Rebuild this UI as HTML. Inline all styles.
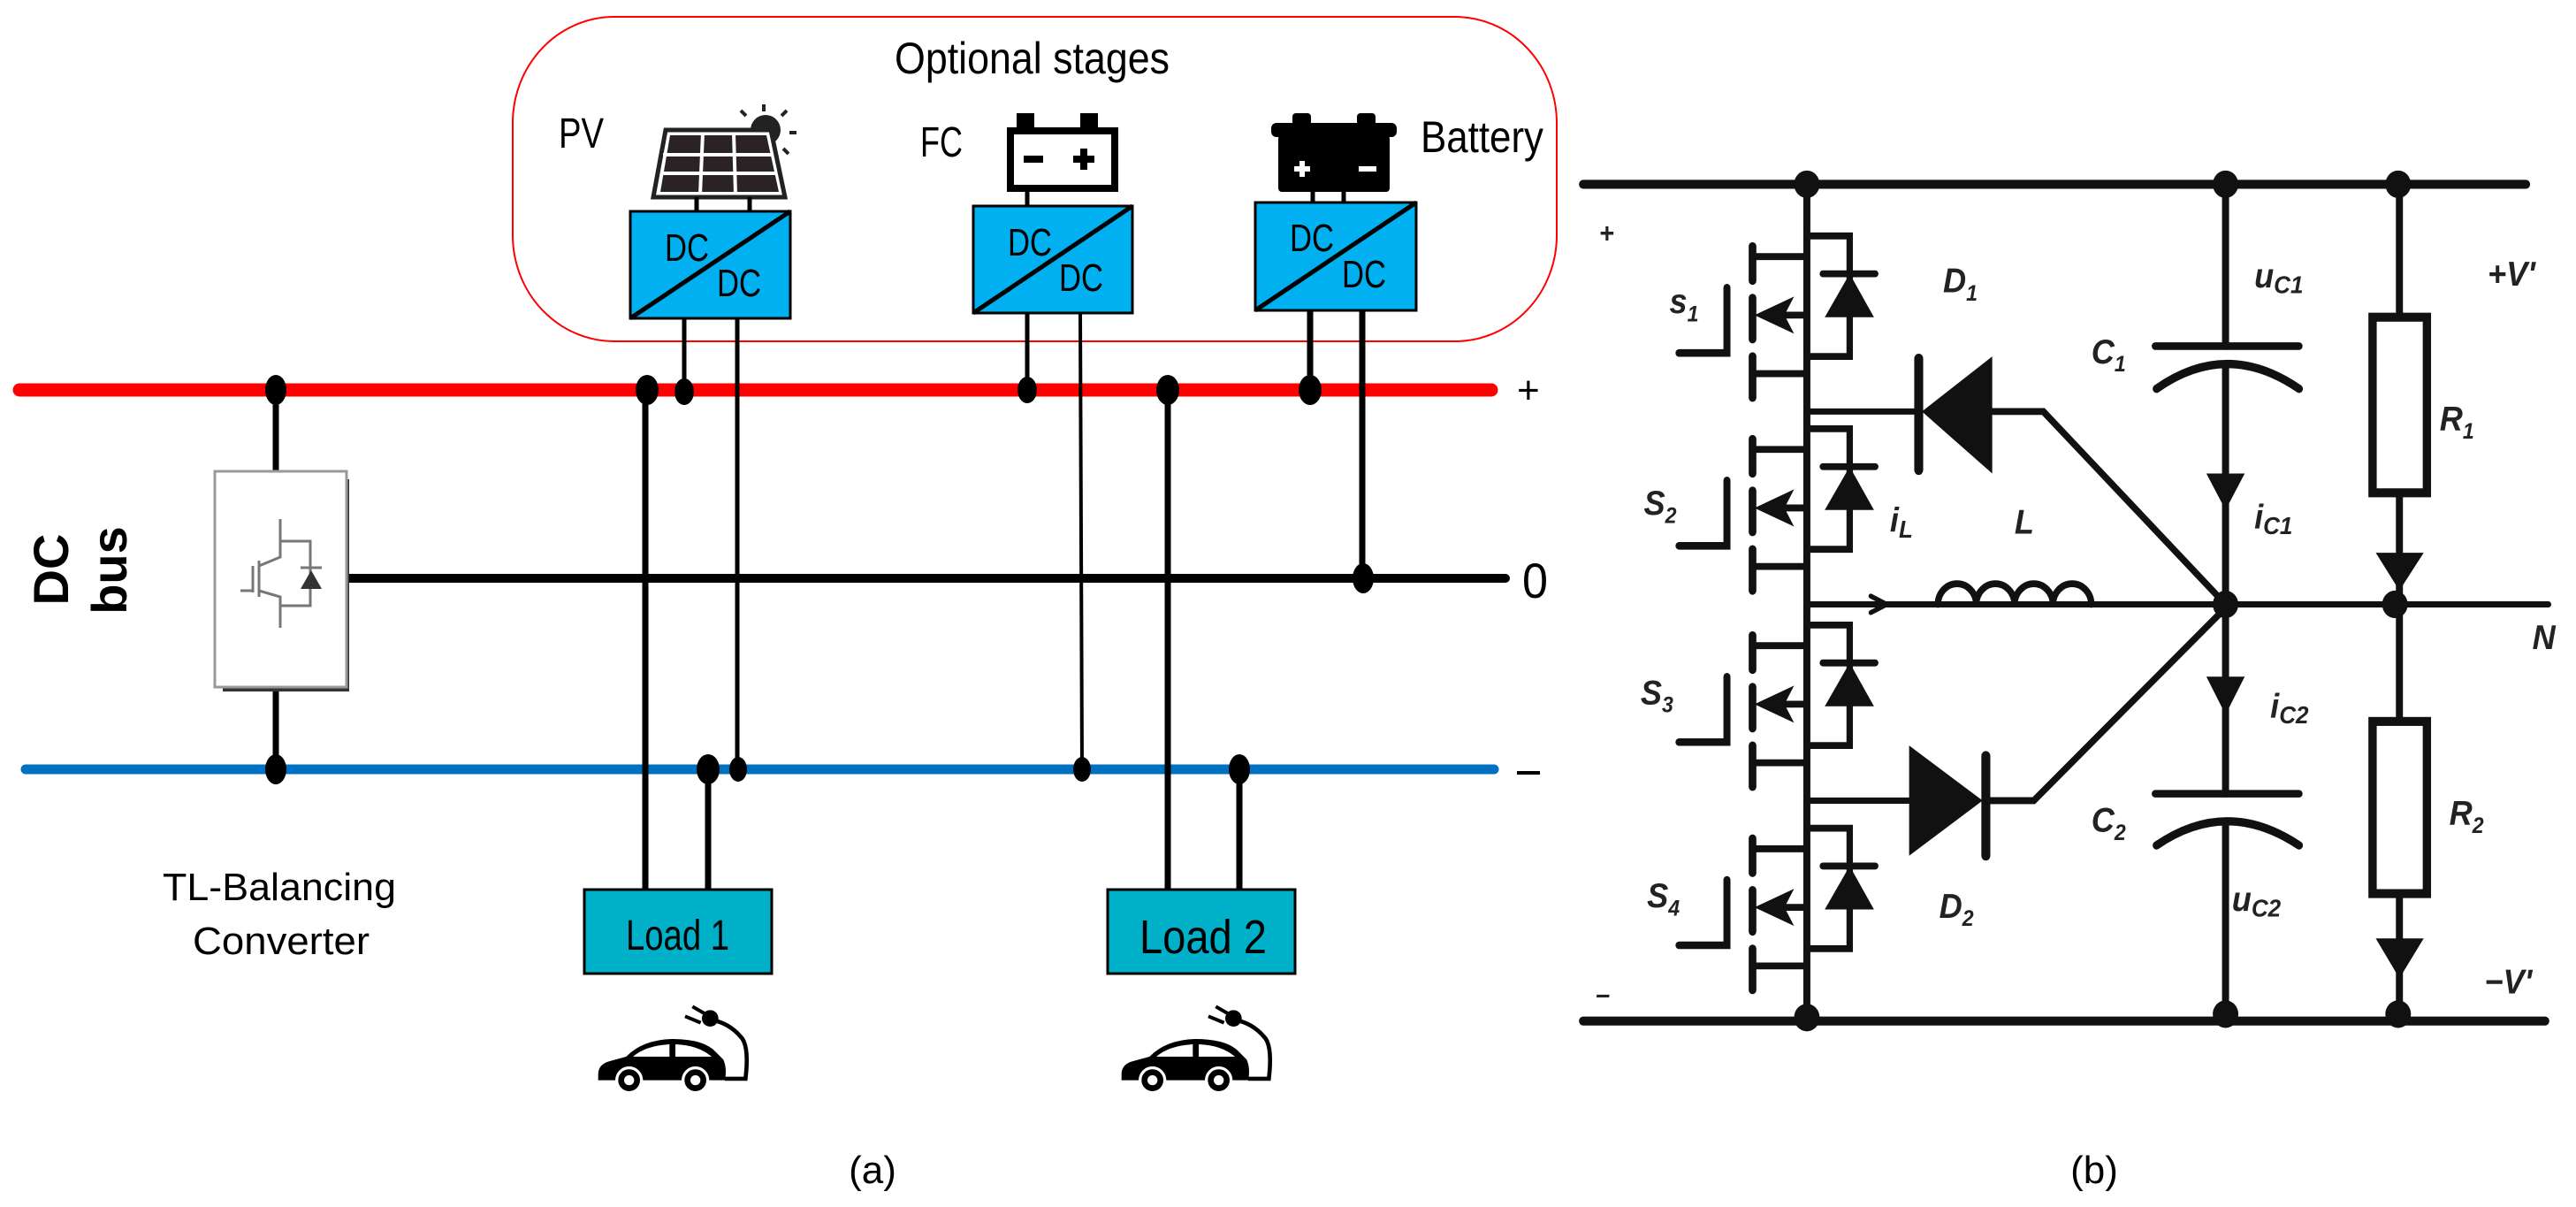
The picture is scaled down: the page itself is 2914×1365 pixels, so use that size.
<!DOCTYPE html>
<html><head><meta charset="utf-8"><style>
html,body{margin:0;padding:0;background:#fff;}
svg{display:block;}
text{font-family:"Liberation Sans",sans-serif;}
</style></head><body>
<svg width="2914" height="1365" viewBox="0 0 2914 1365" xmlns="http://www.w3.org/2000/svg">
<!-- ===== Panel (a) ===== -->
<rect x="580" y="19" width="1181" height="367" rx="115" ry="120" fill="none" stroke="#ff0000" stroke-width="2"/>
<text x="1012" y="83" font-size="50" textLength="311" lengthAdjust="spacingAndGlyphs">Optional stages</text>
<text x="632" y="167" font-size="48" textLength="51" lengthAdjust="spacingAndGlyphs">PV</text>
<text x="1041" y="177" font-size="48" textLength="48" lengthAdjust="spacingAndGlyphs">FC</text>
<text x="1607" y="172" font-size="50" textLength="139" lengthAdjust="spacingAndGlyphs">Battery</text>

<!-- PV icon -->
<g>
<circle cx="866" cy="147" r="17" fill="#222"/>
<g stroke="#222" stroke-width="4">
<line x1="864" y1="118" x2="864" y2="126"/><line x1="838" y1="125" x2="844" y2="131"/><line x1="890" y1="125" x2="884" y2="131"/><line x1="893" y1="150" x2="901" y2="150"/><line x1="886" y1="168" x2="892" y2="174"/>
</g>
<path d="M739,223 L753,147 L872,147 L888,223 Z" fill="#fff" stroke="#222" stroke-width="5"/>
<path d="M747,217 L758,153 L867,153 L881,217 Z" fill="#2a2224"/>
<g stroke="#fff" stroke-width="4"><line x1="750" y1="175" x2="875" y2="175"/><line x1="747" y1="196" x2="878" y2="196"/><line x1="795" y1="150" x2="792" y2="220"/><line x1="830" y1="150" x2="832" y2="220"/></g>
</g>
<g stroke="#000" stroke-width="5"><line x1="788" y1="223" x2="788" y2="240"/><line x1="848" y1="223" x2="848" y2="240"/></g>

<!-- FC icon -->
<rect x="1150" y="128" width="20" height="22" fill="#000"/><rect x="1222" y="128" width="20" height="22" fill="#000"/>
<rect x="1143" y="148" width="118" height="65" fill="#fff" stroke="#000" stroke-width="8"/>
<rect x="1158" y="176" width="22" height="8" fill="#000"/>
<rect x="1214" y="176" width="24" height="8" fill="#000"/><rect x="1222" y="168" width="8" height="24" fill="#000"/>
<line x1="1162" y1="213" x2="1162" y2="234" stroke="#000" stroke-width="5"/>

<!-- Battery icon -->
<rect x="1462" y="128" width="21" height="14" rx="4" fill="#000"/><rect x="1535" y="128" width="21" height="14" rx="4" fill="#000"/>
<rect x="1438" y="139" width="142" height="16" rx="6" fill="#000"/>
<rect x="1446" y="153" width="126" height="64" rx="4" fill="#000"/>
<rect x="1464" y="188" width="18" height="6" fill="#fff"/><rect x="1470" y="182" width="6" height="18" fill="#fff"/>
<rect x="1537" y="188" width="20" height="6" fill="#fff"/>
<g stroke="#000" stroke-width="5"><line x1="1485" y1="217" x2="1485" y2="230"/><line x1="1520" y1="217" x2="1520" y2="230"/></g>

<!-- DC/DC boxes -->
<g stroke="#000" stroke-width="3">
<rect x="713" y="239" width="181" height="121" fill="#00b0f0"/>
<line x1="713" y1="360" x2="894" y2="239" stroke-width="5"/>
<rect x="1101" y="233" width="180" height="121" fill="#00b0f0"/>
<line x1="1101" y1="354" x2="1281" y2="233" stroke-width="5"/>
<rect x="1420" y="229" width="182" height="122" fill="#00b0f0"/>
<line x1="1420" y1="351" x2="1602" y2="229" stroke-width="5"/>
</g>
<g font-size="44">
<text x="752" y="295" textLength="50" lengthAdjust="spacingAndGlyphs">DC</text>
<text x="811" y="335" textLength="50" lengthAdjust="spacingAndGlyphs">DC</text>
<text x="1140" y="289" textLength="50" lengthAdjust="spacingAndGlyphs">DC</text>
<text x="1198" y="329" textLength="50" lengthAdjust="spacingAndGlyphs">DC</text>
<text x="1459" y="284" textLength="50" lengthAdjust="spacingAndGlyphs">DC</text>
<text x="1518" y="325" textLength="50" lengthAdjust="spacingAndGlyphs">DC</text>
</g>

<!-- buses -->
<line x1="22" y1="441" x2="1687" y2="441" stroke="#ff0000" stroke-width="15" stroke-linecap="round"/>
<line x1="393" y1="654" x2="1703" y2="654" stroke="#000" stroke-width="10" stroke-linecap="round"/>
<line x1="29" y1="870" x2="1690" y2="870" stroke="#0070c0" stroke-width="11" stroke-linecap="round"/>
<text x="1716" y="456" font-size="44">+</text>
<text x="1722" y="676" font-size="56" textLength="29" lengthAdjust="spacingAndGlyphs">0</text>
<rect x="1716" y="872" width="26" height="4" fill="#000"/>

<!-- wires -->
<g stroke="#000" fill="none">
<line x1="312" y1="441" x2="312" y2="533" stroke-width="7"/>
<line x1="312" y1="780" x2="312" y2="870" stroke-width="7"/>
<line x1="774" y1="360" x2="774" y2="441" stroke-width="5"/>
<line x1="834" y1="360" x2="834" y2="870" stroke-width="5"/>
<line x1="1162" y1="354" x2="1162" y2="441" stroke-width="5"/>
<line x1="1222" y1="354" x2="1224" y2="870" stroke-width="4"/>
<line x1="1482" y1="351" x2="1482" y2="441" stroke-width="7"/>
<line x1="1541" y1="351" x2="1541" y2="654" stroke-width="7"/>
<line x1="730" y1="441" x2="730" y2="1008" stroke-width="7"/>
<line x1="801" y1="870" x2="801" y2="1008" stroke-width="7"/>
<line x1="1321" y1="441" x2="1321" y2="1008" stroke-width="7"/>
<line x1="1402" y1="870" x2="1402" y2="1008" stroke-width="7"/>
</g>
<g fill="#000">
<ellipse cx="312" cy="441" rx="12" ry="17"/><ellipse cx="732" cy="441" rx="13" ry="17"/><ellipse cx="774" cy="443" rx="11" ry="15"/>
<ellipse cx="1162" cy="441" rx="11" ry="15"/><ellipse cx="1321" cy="441" rx="13" ry="17"/><ellipse cx="1482" cy="441" rx="13" ry="17"/>
<ellipse cx="1542" cy="654" rx="12" ry="17"/>
<ellipse cx="312" cy="870" rx="12" ry="17"/><ellipse cx="801" cy="870" rx="13" ry="17"/><ellipse cx="835" cy="870" rx="10" ry="14"/>
<ellipse cx="1224" cy="870" rx="10" ry="14"/><ellipse cx="1402" cy="870" rx="12" ry="17"/>
</g>

<!-- converter -->
<rect x="252" y="542" width="143" height="240" fill="#333"/>
<rect x="243" y="533" width="149" height="244" fill="#fff" stroke="#999" stroke-width="3"/>
<g stroke="#777" stroke-width="3" fill="none">
<path d="M317,587 V612 H351 V685 H317 V710"/>
<path d="M317,612 V630 L293,640"/><path d="M293,668 L317,675 V685"/>
<line x1="293" y1="634" x2="293" y2="675"/><line x1="286" y1="640" x2="286" y2="670"/><line x1="272" y1="668" x2="286" y2="668"/>
<line x1="340" y1="642" x2="364" y2="642"/>
</g>
<path d="M340,666 L364,666 L352,645 Z" fill="#333"/>
<text transform="translate(77,644) rotate(-90)" font-size="56" font-weight="bold" text-anchor="middle">DC</text>
<text transform="translate(143,645) rotate(-90)" font-size="56" font-weight="bold" text-anchor="middle">bus</text>
<text x="316" y="1018" font-size="44" text-anchor="middle" textLength="264" lengthAdjust="spacingAndGlyphs">TL-Balancing</text>
<text x="318" y="1079" font-size="44" text-anchor="middle" textLength="200" lengthAdjust="spacingAndGlyphs">Converter</text>

<!-- loads -->
<rect x="661" y="1006" width="212" height="95" fill="#00b0c8" stroke="#000" stroke-width="3"/>
<text x="708" y="1074" font-size="48" textLength="117" lengthAdjust="spacingAndGlyphs">Load 1</text>
<rect x="1253" y="1006" width="212" height="95" fill="#00b0c8" stroke="#000" stroke-width="3"/>
<text x="1289" y="1078" font-size="54" textLength="144" lengthAdjust="spacingAndGlyphs">Load 2</text>

<!-- cars -->
<g id="car" transform="translate(640,1000) scale(0.3333)">
<path d="M110,645 Q110,610 150,600 L205,585 Q260,528 360,525 Q470,525 510,570 L535,595 Q548,625 540,665 L110,665 Z" fill="#000"/>
<path d="M228,585 Q270,548 352,543 L352,585 Z" fill="#fff"/>
<path d="M372,543 Q450,546 495,585 L372,585 Z" fill="#fff"/>
<circle cx="215" cy="665" r="42" fill="#000" stroke="#fff" stroke-width="10"/><circle cx="215" cy="665" r="17" fill="#fff"/>
<circle cx="440" cy="665" r="42" fill="#000" stroke="#fff" stroke-width="10"/><circle cx="440" cy="665" r="17" fill="#fff"/>
<path d="M540,660 H610 Q622,560 600,525 Q565,480 515,465" fill="none" stroke="#000" stroke-width="14"/>
<circle cx="490" cy="455" r="28" fill="#000"/>
<g stroke="#000" stroke-width="12"><line x1="470" y1="438" x2="430" y2="415"/><line x1="458" y1="470" x2="405" y2="448"/></g>
</g>
<use href="#car" transform="translate(592,0)"/>

<text x="987" y="1338" font-size="44" text-anchor="middle">(a)</text>

<!-- ===== Panel (b) ===== -->
<g transform="translate(1780,150) scale(0.7231,0.7788)" stroke="#111" fill="none" stroke-linecap="round">
<line x1="15" y1="75" x2="1490" y2="75" stroke-width="13"/>
<line x1="15" y1="1290" x2="1520" y2="1290" stroke-width="13"/>
<line x1="365" y1="685" x2="1525" y2="685" stroke-width="9"/>
<line x1="365" y1="75" x2="365" y2="1290" stroke-width="11"/>
<g id="mos">
<path d="M365,150 H432 V325 H365" stroke-width="10"/>
<line x1="280" y1="180" x2="365" y2="180" stroke-width="10"/>
<line x1="280" y1="165" x2="280" y2="215" stroke-width="12"/>
<line x1="280" y1="240" x2="280" y2="300" stroke-width="12"/>
<line x1="280" y1="325" x2="280" y2="385" stroke-width="12"/>
<line x1="300" y1="265" x2="365" y2="265" stroke-width="10"/>
<path d="M283,265 L345,238 L330,265 L345,292 Z" fill="#111" stroke="none"/>
<line x1="280" y1="350" x2="365" y2="350" stroke-width="10"/>
<path d="M240,225 V320 H165" stroke-width="11"/>
<line x1="390" y1="205" x2="472" y2="205" stroke-width="10"/>
<path d="M432,205 L393,268 L470,268 Z" fill="#111" stroke="none"/>
</g>
<use href="#mos" transform="translate(0,280)"/>
<use href="#mos" transform="translate(0,565)"/>
<use href="#mos" transform="translate(0,860)"/>
<!-- D1 -->
<path d="M365,405 H540" stroke-width="9"/>
<line x1="540" y1="328" x2="540" y2="490" stroke-width="14"/>
<path d="M545,405 L655,325 L655,495 Z" fill="#111" stroke="none"/>
<path d="M655,405 H735 L1020,685" stroke-width="10"/>
<!-- D2 -->
<path d="M365,970 H525" stroke-width="9"/>
<path d="M525,890 L525,1050 L640,970 Z" fill="#111" stroke="none"/>
<line x1="645" y1="905" x2="645" y2="1050" stroke-width="14"/>
<path d="M645,970 H720 L1020,690" stroke-width="10"/>
<!-- inductor -->
<path d="M570,685 a30,30 0 0,1 60,0 a30,30 0 0,1 60,0 a30,30 0 0,1 60,0 a30,30 0 0,1 60,0" stroke-width="10"/>
<path d="M465,673 L490,685 L465,697" stroke-width="7"/>
<!-- capacitors -->
<line x1="1020" y1="75" x2="1020" y2="310" stroke-width="11"/>
<line x1="910" y1="310" x2="1135" y2="310" stroke-width="11"/>
<path d="M912,372 Q1022,300 1135,372" stroke-width="12"/>
<line x1="1020" y1="340" x2="1020" y2="960" stroke-width="11"/>
<path d="M990,495 L1050,495 L1020,548 Z" fill="#111" stroke="none"/>
<path d="M990,790 L1050,790 L1020,845 Z" fill="#111" stroke="none"/>
<line x1="910" y1="960" x2="1135" y2="960" stroke-width="11"/>
<path d="M912,1035 Q1022,965 1135,1035" stroke-width="12"/>
<line x1="1020" y1="1000" x2="1020" y2="1290" stroke-width="11"/>
<!-- resistors -->
<line x1="1292" y1="75" x2="1292" y2="1290" stroke-width="11"/>
<rect x="1250" y="268" width="85" height="255" fill="#fff" stroke-width="13"/>
<rect x="1250" y="855" width="85" height="250" fill="#fff" stroke-width="13"/>
<path d="M1255,610 L1330,610 L1292,665 Z" fill="#111" stroke="none"/>
<path d="M1255,1170 L1330,1170 L1292,1228 Z" fill="#111" stroke="none"/>
<!-- dots -->
<g fill="#111" stroke="none">
<circle cx="365" cy="75" r="20"/><circle cx="1020" cy="75" r="20"/><circle cx="1290" cy="75" r="20"/>
<circle cx="365" cy="1285" r="20"/><circle cx="1020" cy="1280" r="20"/><circle cx="1290" cy="1280" r="20"/>
<circle cx="1020" cy="685" r="20"/><circle cx="1285" cy="685" r="20"/>
</g>
<g fill="#222" stroke="none" font-weight="bold" font-style="italic" font-size="50">
<text x="40" y="160" font-size="40">+</text>
<text x="35" y="1265" font-size="40">–</text>
<text x="150" y="262">s<tspan font-size="32" dy="12">1</tspan></text>
<text x="110" y="555">S<tspan font-size="32" dy="12">2</tspan></text>
<text x="105" y="830">S<tspan font-size="32" dy="12">3</tspan></text>
<text x="115" y="1125">S<tspan font-size="32" dy="12">4</tspan></text>
<text x="578" y="232">D<tspan font-size="32" dy="12">1</tspan></text>
<text x="572" y="1140">D<tspan font-size="32" dy="12">2</tspan></text>
<text x="1065" y="225">u<tspan font-size="36" dy="8">C1</tspan></text>
<text x="1030" y="1130">u<tspan font-size="36" dy="8">C2</tspan></text>
<text x="810" y="335">C<tspan font-size="32" dy="12">1</tspan></text>
<text x="810" y="1015">C<tspan font-size="32" dy="12">2</tspan></text>
<text x="1065" y="575">i<tspan font-size="36" dy="8">C1</tspan></text>
<text x="1090" y="850">i<tspan font-size="36" dy="8">C2</tspan></text>
<text x="495" y="580">i<tspan font-size="36" dy="8">L</tspan></text>
<text x="690" y="582">L</text>
<text x="1355" y="432">R<tspan font-size="32" dy="12">1</tspan></text>
<text x="1370" y="1005">R<tspan font-size="32" dy="12">2</tspan></text>
<text x="1430" y="222">+V'</text>
<text x="1425" y="1250">−V'</text>
<text x="1500" y="750">N</text>
</g>
</g>
<text x="2369" y="1338" font-size="44" text-anchor="middle">(b)</text>
</svg>
</body></html>
